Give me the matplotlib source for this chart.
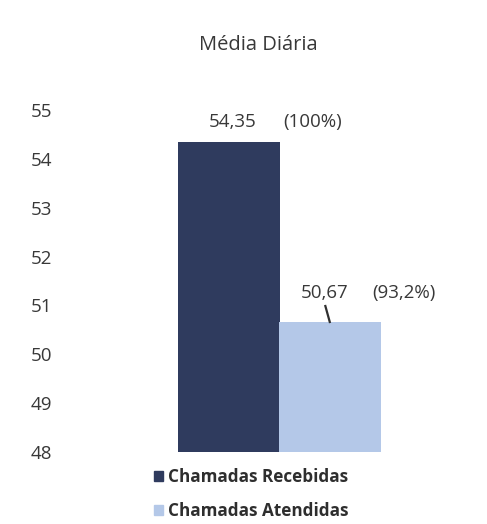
import matplotlib.pyplot as plt
import matplotlib.patches as mpatches

series = ['Chamadas Recebidas', 'Chamadas Atendidas']
values = [54.35, 50.67]
percents = ['(100%)', '(93,2%)']
colors = ['#2f3b5e', '#b4c8e8']
yticks = [48, 49, 50, 51, 52, 53, 54, 55]

plt.rcParams['font.family'] = ['Open Sans', 'DejaVu Sans']
txt = '#383838'

fig = plt.figure(figsize=(4.87, 5.24), dpi=100)
ax = fig.add_axes([0.164, 0.1374, 0.822, 0.6526])

w = 0.255
offs = [-0.1275, 0.125]
for i, v in enumerate(values):
    ax.bar(offs[i], v - 48, bottom=48, width=w, color=colors[i], label=series[i])

ax.set_xlim(-0.5, 0.5)
ax.set_ylim(48, 55)
ax.set_yticks(yticks)
ax.set_yticklabels([str(t) for t in yticks], fontsize=13.5, color=txt)
ax.set_xticks([])
ax.tick_params(axis='y', length=0, pad=20)
for s in ax.spines.values():
    s.set_visible(False)

# data labels
ax.text(offs[0] + 0.01, values[0] + 0.4, f"{values[0]:.2f}".replace('.', ','),
        ha='center', va='center', fontsize=13.5, color=txt)
ax.text(offs[0] + 0.21, values[0] + 0.4, percents[0],
        ha='center', va='center', fontsize=13.5, color=txt)
ax.text(offs[1] - 0.0125, values[1] + 0.58, f"{values[1]:.2f}".replace('.', ','),
        ha='center', va='center', fontsize=13.5, color=txt)
ax.text(offs[1] + 0.185, values[1] + 0.58, percents[1],
        ha='center', va='center', fontsize=13.5, color=txt)
# leader line
ax.plot([offs[1] - 0.0125, offs[1]], [values[1] + 0.34, values[1] - 0.03],
        color='#303030', lw=1.6, solid_capstyle='butt')

fig.text(0.53, 0.915, 'Média Diária', ha='center', va='center', fontsize=14.5, color=txt)

handles = [mpatches.Patch(color=c, label=s) for c, s in zip(colors, series)]
leg = fig.legend(handles=handles, loc='upper left', bbox_to_anchor=(0.302, 0.12),
                 frameon=False, handlelength=0.55, handleheight=0.55, handletextpad=0.25,
                 labelspacing=0.95, borderaxespad=0,
                 prop={'family': ['Open Sans', 'DejaVu Sans'], 'weight': 'bold', 'size': 12.3})
for t in leg.get_texts():
    t.set_color('#2e2e2e')

fig.savefig('out.png', dpi=100)
